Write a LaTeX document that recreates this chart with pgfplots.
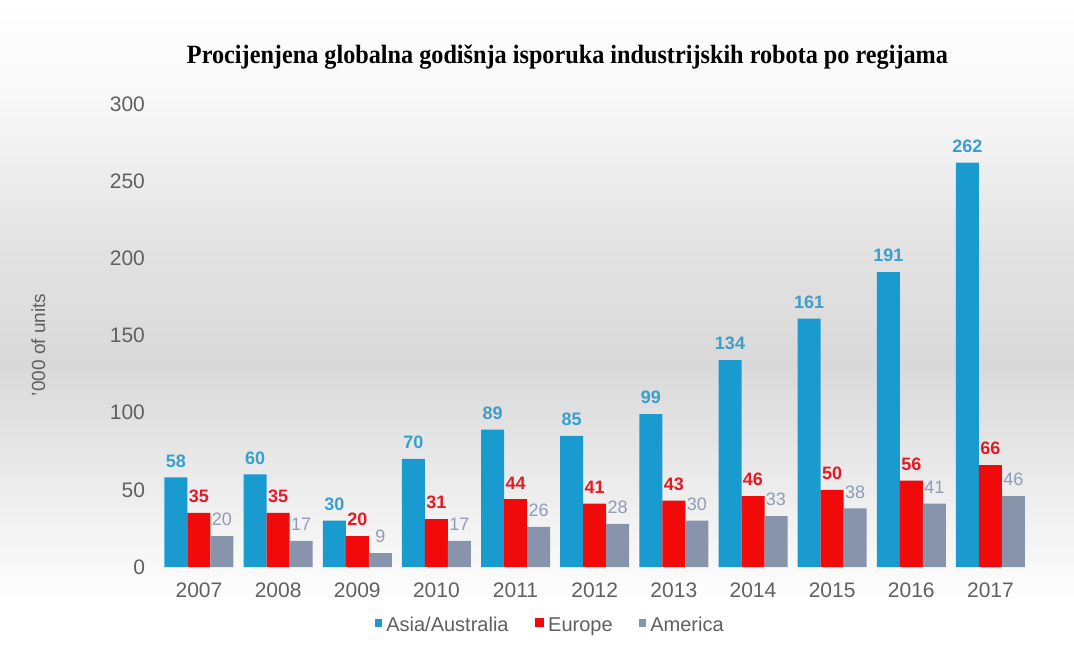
\documentclass[border=0pt]{standalone}
\usepackage{graphicx}
\usepackage{pgfplots}
\pgfplotsset{compat=1.18}
\usepackage{fontspec}
\setmainfont{Liberation Sans}
\newfontfamily\titlefont{Liberation Serif}
\definecolor{asia}{HTML}{1A9BD0}
\definecolor{asialbl}{HTML}{3A9FCB}
\definecolor{europe}{HTML}{F00A0A}
\definecolor{europelbl}{HTML}{E31B24}
\definecolor{america}{HTML}{8894AB}
\definecolor{americalbl}{HTML}{8F9CB5}
\definecolor{ticktxt}{HTML}{606060}
\pgfdeclareverticalshading{bgshade}{100bp}{color(0bp)=(white); color(25bp)=(white); color(28bp)=(white); color(46.7bp)=(black!15); color(56bp)=(black!11); color(67bp)=(black!3); color(75bp)=(white); color(100bp)=(white)}
\pgfplotsset{
  sqsmall/.style={legend image code/.code={\fill[##1] (0pt,-0.5pt) rectangle (3.8pt,3.3pt);}},
  sqbig/.style={legend image code/.code={\fill[##1] (0pt,-0.8pt) rectangle (4.8pt,3.8pt);}},
}
\begin{document}
\begin{tikzpicture}
\useasboundingbox (0,0) rectangle (537pt,322pt);
\shade[shading=bgshade] (0,0) rectangle (537pt,322pt);
\node[anchor=base] at (283.75pt,290.5pt) {\resizebox{380.5pt}{9.3pt}{\titlefont\bfseries Procijenjena globalna godišnja isporuka industrijskih robota po regijama}};
\begin{axis}[
  at={(79.7pt,38.5pt)}, anchor=south west,
  scale only axis, width=435.3pt, height=231.5pt,
  xmin=-0.5, xmax=10.5, ymin=0, ymax=300,
  xtick={0,1,2,3,4,5,6,7,8,9,10},
  xticklabels={2007,2008,2009,2010,2011,2012,2013,2014,2015,2016,2017},
  ytick={0,50,100,150,200,250,300},
  axis line style={draw=none}, major tick length=0pt,
  /pgf/number format/assume math mode=true,
  tick label style={font=\fontsize{10.5}{12}\selectfont, text=ticktxt},
  xticklabel style={yshift=-4.2pt},
  yticklabel style={xshift=-3.7pt},
  ylabel={'000 of units},
  ylabel style={at={(axis description cs:-0.139,0.48)}, anchor=center, rotate=0, font=\fontsize{9.5}{11}\selectfont, text=ticktxt},
  ybar, bar width=11.5pt,
  nodes near coords,
  every node near coord/.append style={font=\fontsize{9}{10}\selectfont\bfseries, yshift=1.5pt},
  legend style={at={(rel axis cs:0.45,-0.127)}, anchor=center, legend columns=3, draw=none, fill=none,
    font=\fontsize{10}{12}\selectfont, text=ticktxt,
    /tikz/every even column/.append style={column sep=11pt}},
  legend cell align=left,
]
\addplot[fill=asia, draw=none, bar shift=-11.5pt, every node near coord/.append style={text=asialbl}, sqsmall]
  coordinates {(0,58) (1,60) (2,30) (3,70) (4,89) (5,85) (6,99) (7,134) (8,161) (9,191) (10,262)};
\addplot[fill=europe, draw=none, bar shift=0pt, every node near coord/.append style={text=europelbl}, sqbig]
  coordinates {(0,35) (1,35) (2,20) (3,31) (4,44) (5,41) (6,43) (7,46) (8,50) (9,56) (10,66)};
\addplot[fill=america, draw=none, bar shift=11.5pt, every node near coord/.append style={text=americalbl, font=\fontsize{9}{10}\selectfont}, sqsmall]
  coordinates {(0,20) (1,17) (2,9) (3,17) (4,26) (5,28) (6,30) (7,33) (8,38) (9,41) (10,46)};
\legend{Asia/Australia, Europe, America}
\end{axis}
\end{tikzpicture}
\end{document}
